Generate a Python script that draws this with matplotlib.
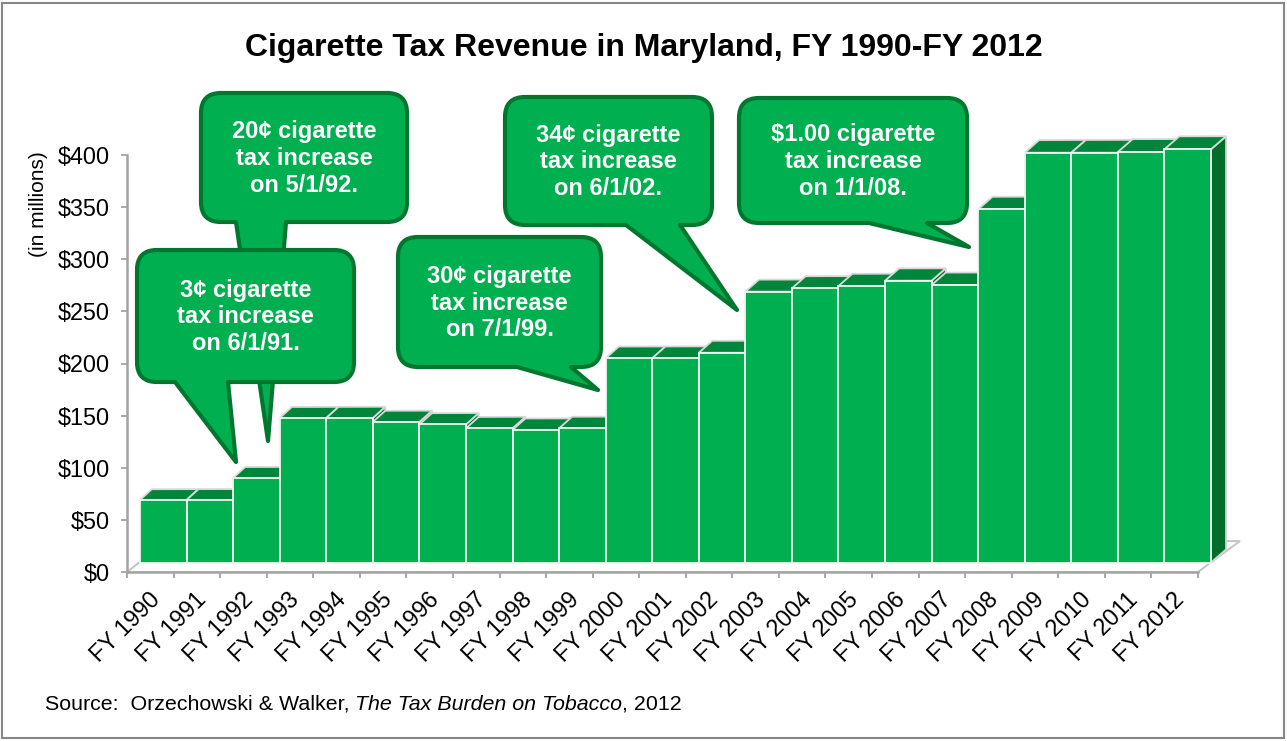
import matplotlib
matplotlib.use("Agg")
import matplotlib.pyplot as plt
from matplotlib.patches import Polygon, PathPatch, Rectangle
from matplotlib.path import Path
from matplotlib.transforms import Affine2D, ScaledTranslation

plt.rcParams['font.family'] = ['Liberation Sans', 'DejaVu Sans']

# ---- data -------------------------------------------------------------
fiscal_years = ["FY 1990", "FY 1991", "FY 1992", "FY 1993", "FY 1994", "FY 1995",
                "FY 1996", "FY 1997", "FY 1998", "FY 1999", "FY 2000", "FY 2001",
                "FY 2002", "FY 2003", "FY 2004", "FY 2005", "FY 2006", "FY 2007",
                "FY 2008", "FY 2009", "FY 2010", "FY 2011", "FY 2012"]
revenue_millions = [60.0, 60.0, 81.1, 138.6, 138.6, 134.8, 132.4, 128.7, 127.1,
                    128.7, 195.9, 195.9, 201.2, 259.8, 263.0, 265.2, 270.3, 266.2,
                    338.8, 393.1, 393.1, 393.8, 396.4]
y_ticks = [0, 50, 100, 150, 200, 250, 300, 350, 400]
y_tick_labels = ["$0", "$50", "$100", "$150", "$200", "$250", "$300", "$350", "$400"]

callout_texts = [
    "20\u00a2 cigarette\ntax increase\non 5/1/92.",
    "3\u00a2 cigarette\ntax increase\non 6/1/91.",
    "30\u00a2 cigarette\ntax increase\non 7/1/99.",
    "34\u00a2 cigarette\ntax increase\non 6/1/02.",
    "$1.00 cigarette\ntax increase\non 1/1/08.",
]

title = "Cigarette Tax Revenue in Maryland, FY 1990-FY 2012"
y_label = "(in millions)"
source_parts = [("Source:  Orzechowski & Walker, ", "normal"),
                ("The Tax Burden on Tobacco", "italic"),
                (", 2012", "normal")]

# ---- layout (pixels) ----------------------------------------------------
W, H = 1287, 741
AX_L, AX_R, AX_B, AX_T = 127, 1198, 572, 155
FRONT_GREEN = "#00b050"
TOP_GREEN = "#00853a"
SIDE_GREEN = "#006d2b"
CALLOUT_EDGE = "#00772f"
AXIS_GRAY = "#a3a3a3"

fig = plt.figure(figsize=(W / 100, H / 100), dpi=100)
fig.patch.set_facecolor("white")
ax = fig.add_axes([AX_L / W, 1 - AX_B / H, (AX_R - AX_L) / W, (AX_B - AX_T) / H])
n = len(revenue_millions)
ax.set_xlim(0, n)
ax.set_ylim(0, 400)
ax.patch.set_visible(False)

sx = (AX_R - AX_L) / n      # pixels per category
sy = (AX_B - AX_T) / 400.0  # pixels per million dollars


def depth(xd):
    """Receding (depth) vector of a bar at data x, in data units (slight perspective)."""
    f = xd / n
    return (11.7 + 3.3 * f) / sx, (10.7 + 2.3 * f) / sy


def floor_depth(xd):
    dx, dy = depth(xd)
    return 2.8 * dx, 2.38 * dy


# floor
fdx0, fdy0 = floor_depth(0)
fdx1, fdy1 = floor_depth(n)
ax.add_patch(Polygon([(0, 0), (n, 0), (n + fdx1, fdy1), (fdx0, fdy0)], closed=True,
                     facecolor="white", edgecolor="#c4c4c4", lw=1.4, zorder=1,
                     clip_on=False, joinstyle="miter"))

# bars: front offset from floor edge
fox, foy = 13.0 / sx, 9.5 / sy
edge_kw = dict(lw=1.3, clip_on=False, joinstyle="miter")
for i, v in enumerate(revenue_millions):
    x0 = i + fox
    x1 = x0 + 1
    yb, yt = foy, foy + v
    d0x, d0y = depth(x0)
    d1x, d1y = depth(x1)
    ax.add_patch(Polygon([(x1, yb), (x1, yt), (x1 + d1x, yt + d1y), (x1 + d1x, yb + d1y)],
                         facecolor=SIDE_GREEN, edgecolor="#d6d6d6", zorder=2, **edge_kw))
    ax.add_patch(Polygon([(x0, yt), (x1, yt), (x1 + d1x, yt + d1y), (x0 + d0x, yt + d0y)],
                         facecolor=TOP_GREEN, edgecolor="#d9d9d9", zorder=3, **edge_kw))

centers = [i + 0.5 for i in range(n)]
ax.bar([c + fox for c in centers], revenue_millions, width=1.0, bottom=foy,
       color=FRONT_GREEN, edgecolor="#f3f3f3", linewidth=1.3, zorder=4, clip_on=False)

# axes styling
for side in ("top", "right"):
    ax.spines[side].set_visible(False)
for side in ("left", "bottom"):
    ax.spines[side].set_color(AXIS_GRAY)
    ax.spines[side].set_linewidth(1.8)
    ax.spines[side].set_zorder(5)

ax.set_yticks(y_ticks)
ax.set_yticklabels(y_tick_labels, fontsize=16.8)
ax.tick_params(axis="y", direction="out", length=4.5, width=1.3, color=AXIS_GRAY, pad=8)

ax.set_xticks(list(range(n + 1)), minor=True)
ax.set_xticks(centers)
ax.set_xticklabels(fiscal_years, fontsize=16.8)
ax.tick_params(axis="x", which="minor", direction="out", length=4.5, width=1.3, color=AXIS_GRAY)
ax.tick_params(axis="x", which="major", length=0, pad=17.5)
shift = ScaledTranslation(6 / 100, 0, fig.dpi_scale_trans)
for lab in ax.get_xticklabels():
    lab.set_rotation(45)
    lab.set_ha("right")
    lab.set_va("center")
    lab.set_rotation_mode("anchor")
    lab.set_transform(lab.get_transform() + shift)

# ---- callouts (pixel layout, image coordinates with y downward) --------
px = Affine2D().scale(1 / W, -1 / H).translate(0, 1) + fig.transFigure

callout_boxes = [
    # (left, top, right, bottom, pointer base left, pointer base right, tip)
    (201, 93, 407, 222, 236, 286, (268, 441)),
    (137, 250, 354, 382, 175, 228, (236, 462)),
    (398, 237, 601, 367, 517, 571, (598, 390)),
    (505, 97, 712, 225, 626, 680, (737, 310)),
    (739, 98, 967, 223, 869, 927, (969, 247)),
]


def callout_path(x0, y0, x1, y1, b0, b1, tip, r=20):
    verts = [(x0 + r, y0), (x1 - r, y0), (x1, y0), (x1, y0 + r), (x1, y1 - r),
             (x1, y1), (x1 - r, y1), (b1, y1), tip, (b0, y1), (x0 + r, y1),
             (x0, y1), (x0, y1 - r), (x0, y0 + r), (x0, y0), (x0 + r, y0), (x0 + r, y0)]
    codes = [Path.MOVETO, Path.LINETO, Path.CURVE3, Path.CURVE3, Path.LINETO,
             Path.CURVE3, Path.CURVE3, Path.LINETO, Path.LINETO, Path.LINETO, Path.LINETO,
             Path.CURVE3, Path.CURVE3, Path.LINETO, Path.CURVE3, Path.CURVE3, Path.CLOSEPOLY]
    return Path(verts, codes)


for k, (box, text) in enumerate(zip(callout_boxes, callout_texts)):
    x0, y0, x1, y1, b0, b1, tip = box
    fig.add_artist(PathPatch(callout_path(x0, y0, x1, y1, b0, b1, tip), transform=px,
                             facecolor=FRONT_GREEN, edgecolor=CALLOUT_EDGE, lw=3.0,
                             joinstyle="round", zorder=10 + 2 * k))
    fig.text((x0 + x1) / 2 / W, 1 - ((y0 + y1) / 2 + 1) / H, text, ha="center", va="center",
             color="white", fontsize=17, fontweight="bold", linespacing=1.22,
             zorder=11 + 2 * k)

# ---- titles and notes ----------------------------------------------------
fig.text(644 / W, 1 - 56 / H, title, ha="center", va="baseline",
         fontsize=23, fontweight="bold")
fig.text(39 / W, 1 - 204 / H, y_label, rotation=90, ha="center", va="center", fontsize=15)

renderer = fig.canvas.get_renderer()
x_cursor = 45
for part, style in source_parts:
    t = fig.text(x_cursor / W, 1 - 710 / H, part, ha="left", va="baseline",
                 fontsize=15.4, fontstyle=style)
    x_cursor += t.get_window_extent(renderer).width

fig.add_artist(Rectangle((2 / W, 3 / H), 1282 / W, 735 / H, transform=fig.transFigure,
                         fill=False, edgecolor="#878787", lw=1.5))

fig.savefig("out.png", dpi=100)
